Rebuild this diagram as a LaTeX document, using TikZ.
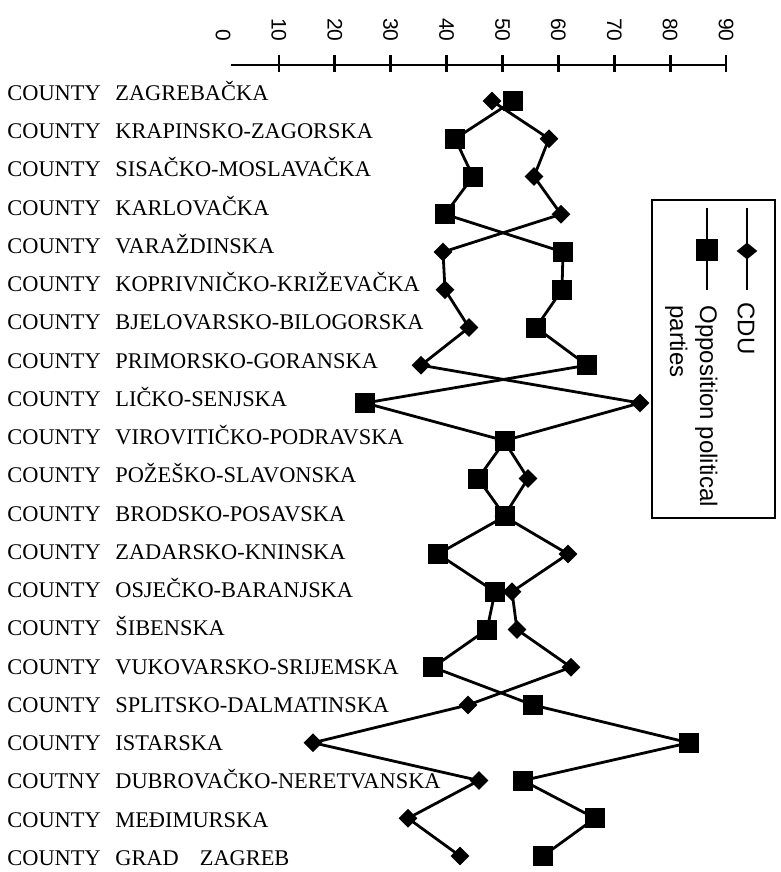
\documentclass[tikz,border=0pt]{standalone}
\usepackage{fontspec}
\setmainfont{Liberation Serif}
\newfontfamily\legfont{Liberation Sans}
\usetikzlibrary{shapes.geometric}
\begin{document}
\begin{tikzpicture}[x=0.5pt,y=-0.5pt,
  sq/.style={rectangle, fill=black, minimum size=10pt, inner sep=0pt},
  dm/.style={diamond, fill=black, minimum width=9.5pt, minimum height=9.5pt, inner sep=0pt},
  ser/.style={line width=1.4pt, line join=round},
  axisline/.style={line width=1.35pt},
  countylabel/.style={anchor=base west, inner sep=0pt, font=\fontsize{11.2pt}{13pt}\selectfont},
  axislabel/.style={rotate=-90, anchor=east, inner sep=0pt, font=\legfont\fontsize{10.5pt}{12pt}\selectfont},
  legtext/.style={rotate=-90, inner sep=0pt, font=\legfont\fontsize{12pt}{15pt}\selectfont}]
\fill[white] (0,0) rectangle (781,872);
\useasboundingbox (0,0) rectangle (781,872);

% axis
\coordinate (ax0) at (231,65);
\coordinate (ax90) at (726,65);
\draw[axisline] (ax0) -- (ax90);
\foreach \v in {10,20,...,90}
  \draw[axisline] ({223+5.59*\v},55) -- ++(0,17);
\foreach \v in {0,10,...,90}
  \node[axislabel] (t\v) at ({223+5.59*\v},42) {\v};

% county labels
\foreach \i/\c/\n in {
  0/COUNTY/ZAGREBAČKA,
  1/COUNTY/KRAPINSKO-ZAGORSKA,
  2/COUNTY/SISAČKO-MOSLAVAČKA,
  3/COUNTY/KARLOVAČKA,
  4/COUNTY/VARAŽDINSKA,
  5/COUNTY/KOPRIVNIČKO-KRIŽEVAČKA,
  6/COUNTY/BJELOVARSKO-BILOGORSKA,
  7/COUNTY/PRIMORSKO-GORANSKA,
  8/COUNTY/LIČKO-SENJSKA,
  9/COUNTY/VIROVITIČKO-PODRAVSKA,
  10/COUNTY/POŽEŠKO-SLAVONSKA,
  11/COUNTY/BRODSKO-POSAVSKA,
  12/COUNTY/ZADARSKO-KNINSKA,
  13/COUNTY/OSJEČKO-BARANJSKA,
  14/COUNTY/ŠIBENSKA,
  15/COUNTY/VUKOVARSKO-SRIJEMSKA,
  16/COUNTY/SPLITSKO-DALMATINSKA,
  17/COUNTY/ISTARSKA,
  18/COUTNY/DUBROVAČKO-NERETVANSKA,
  19/COUNTY/MEĐIMURSKA,
  20/COUNTY/{GRAD\hspace{10.5pt}ZAGREB}}
  \node[countylabel] (lab\i) at (7,{100.4+38.25*\i}) {\makebox[54pt][l]{\c}\n};

% data coordinates
\foreach \i/\d/\s in {0/492/513, 1/549/455, 2/534/473, 3/561/445, 4/443/563,
  5/445/562, 6/469/536, 7/421/587, 8/640/365, 9/504/505, 10/528/478,
  11/504/505, 12/568/438, 13/512/495, 14/517/487, 15/571/433, 16/468/533,
  17/313/689, 18/479/523, 19/408/595, 20/460/543} {
  \coordinate (pd\i) at (\d,{101+37.75*\i});
  \coordinate (ps\i) at (\s,{101+37.75*\i});
}
\draw[ser] (pd0) \foreach \i in {1,...,20} { -- (pd\i) };
\draw[ser] (ps0) \foreach \i in {1,...,20} { -- (ps\i) };
\foreach \i in {0,...,20} \node[dm] (d\i) at (pd\i) {};
\foreach \i in {0,...,20} \node[sq] (s\i) at (ps\i) {};

% legend
\node[draw, line width=1.1pt, inner sep=0pt, minimum width=61.5pt, minimum height=159pt] (legend) at (713.5,359) {};
\coordinate (lc1) at (747,208); \coordinate (lc2) at (747,290);
\coordinate (lo1) at (707,208); \coordinate (lo2) at (707,290);
\draw[ser] (lc1) -- (lc2);
\draw[ser] (lo1) -- (lo2);
\node[dm, minimum width=10.5pt, minimum height=8.5pt] (legd) at (747,251) {};
\node[sq, minimum size=10.8pt] (legs) at (707,250) {};
\node[legtext, anchor=west] (cdu) at (746,302) {CDU};
\node[legtext, anchor=north west, align=left] (opp) at (718,305) {Opposition political\\parties};
\end{tikzpicture}
\end{document}
